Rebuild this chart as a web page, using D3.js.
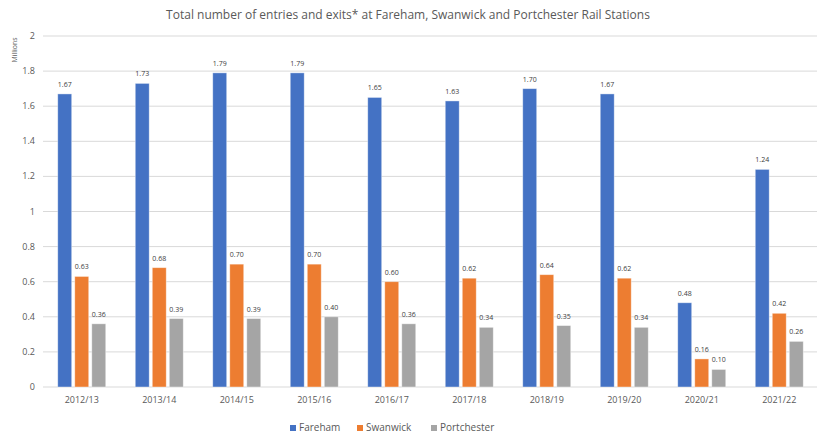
<!DOCTYPE html>
<html><head><meta charset="utf-8">
<script src="https://cdn.jsdelivr.net/npm/d3@7"></script>
<style>body{margin:0;background:#fff;font-family:"Open Sans","Segoe UI",Calibri,sans-serif;}</style>
</head><body>
<svg id="c" width="817" height="435"></svg>
<script>
const categories = ["2012/13","2013/14","2014/15","2015/16","2016/17","2017/18","2018/19","2019/20","2020/21","2021/22"];
const seriesNames = ["Fareham","Swanwick","Portchester"];
const fareham = [1.67,1.73,1.79,1.79,1.65,1.63,1.70,1.67,0.48,1.24];
const swanwick = [0.63,0.68,0.70,0.70,0.60,0.62,0.64,0.62,0.16,0.42];
const portchester = [0.36,0.39,0.39,0.40,0.36,0.34,0.35,0.34,0.10,0.26];
const yTicks = [0,0.2,0.4,0.6,0.8,1,1.2,1.4,1.6,1.8,2];
const colors = ["#4472C4","#ED7D31","#A5A5A5"];
const seriesVals = [fareham, swanwick, portchester];

(function(){
const svg = d3.select("#c");
const mLeft = 43, mRight = 818, mTop = 36, mBottom = 387;
const x = d3.scaleBand().domain(categories).range([mLeft, mRight]);
const y = d3.scaleLinear().domain([0, 2]).range([mBottom, mTop]);
const inner = d3.scaleBand().domain(seriesNames).range([0, 48]).paddingInner(0.18);

svg.append("text").attr("x", 408).attr("y", 19).attr("text-anchor","middle")
  .attr("font-size", 12).attr("fill","#595959").text("Total number of entries and exits* at Fareham, Swanwick and Portchester Rail Stations");

const ga = svg.append("g");
ga.selectAll("line").data(yTicks).join("line")
  .attr("x1", mLeft).attr("x2", mRight).attr("y1", d=>y(d)).attr("y2", d=>y(d))
  .attr("stroke","#d9d9d9").attr("stroke-width",1);
ga.selectAll("text").data(yTicks).join("text")
  .attr("x", 35).attr("y", d=>y(d)+3).attr("text-anchor","end")
  .attr("font-size", 9).attr("fill","#595959").text(d=>d3.format("~g")(d));

svg.append("text").attr("transform","translate(17,50) rotate(-90)").attr("text-anchor","middle")
  .attr("font-size",7).attr("fill","#595959").text("Millions");

seriesNames.forEach((s, si) => {
  const g = svg.append("g");
  const vals = seriesVals[si];
  g.selectAll("rect").data(categories).join("rect")
    .attr("x", (c)=> x(c) + x.bandwidth()/2 - 24 + inner(s))
    .attr("width", inner.bandwidth())
    .attr("y", (c,i)=> y(vals[i]))
    .attr("height", (c,i)=> y(0) - y(vals[i]))
    .attr("fill", colors[si]).attr("stroke","#ffffff").attr("stroke-opacity",0.5).attr("stroke-width",0.8);
  g.selectAll("text").data(categories).join("text")
    .attr("x", (c)=> x(c) + x.bandwidth()/2 - 24 + inner(s) + inner.bandwidth()/2)
    .attr("y", (c,i)=> y(vals[i]) - 7)
    .attr("text-anchor","middle").attr("font-size",7).attr("fill","#404040")
    .text((c,i)=> vals[i].toFixed(2));
});

svg.append("g").selectAll("text").data(categories).join("text")
  .attr("x", c=> x(c)+x.bandwidth()/2).attr("y", 403).attr("text-anchor","middle")
  .attr("font-size",9).attr("fill","#595959").text(c=>c);

const legX = [290, 357, 431];
const lg = svg.append("g");
seriesNames.forEach((s, i) => {
  lg.append("rect").attr("x", legX[i]).attr("y", 425).attr("width",6).attr("height",6).attr("fill",colors[i]);
  lg.append("text").attr("x", legX[i]+9).attr("y", 431).attr("font-size",10).attr("fill","#595959").text(s);
});
})();
</script>
</body></html>
